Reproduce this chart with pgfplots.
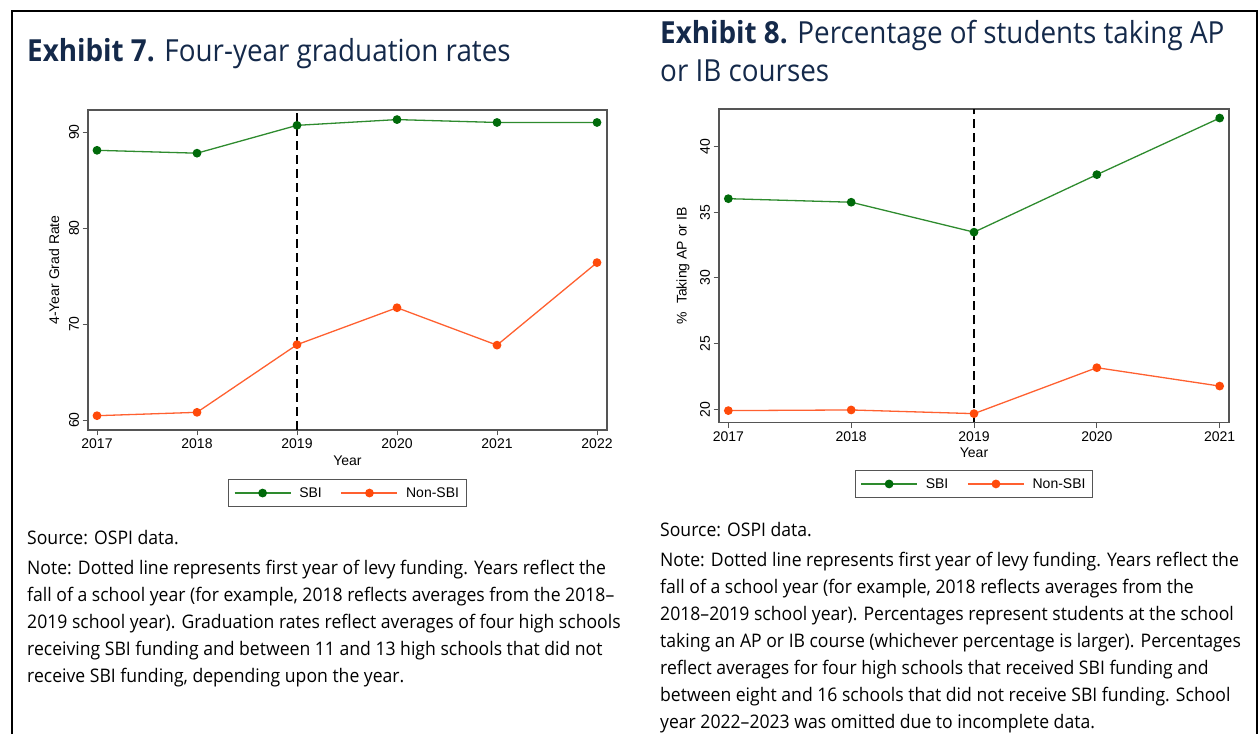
\documentclass[border=0pt]{standalone}
\usepackage{fontspec}
\usepackage{pgfplots}
\pgfplotsset{compat=1.18}
\setmainfont{Open Sans}
\newfontfamily\notefont[FakeStretch=0.941]{Open Sans}
\newfontfamily\titlefont[FakeStretch=0.915]{Open Sans}
\newfontfamily\plotfont{Liberation Sans}
\definecolor{navy}{HTML}{14294A}
\definecolor{sbigreen}{HTML}{006A0A}
\definecolor{sbiline}{HTML}{2E8B2E}
\definecolor{nonsbi}{HTML}{FF4A0A}
\definecolor{nonsbiline}{HTML}{FF6030}
\definecolor{framegray}{HTML}{555555}
\newcommand{\pf}{\plotfont\fontsize{14}{16}\selectfont}
\newcommand{\nf}{\notefont\fontsize{18.7}{27}\selectfont}
\pgfplotsset{
  legend image code/.code={\draw[mark repeat=2,mark phase=2,#1] plot coordinates {(0pt,0pt)(28pt,0pt)(56pt,0pt)};},
  stataaxis/.style={
    scale only axis, anchor=south west,
    axis line style={framegray, line width=1.2pt},
    tick style={framegray, line width=1pt},
    tick align=outside, major tick length=5.5pt,
    tick pos=left,
    /pgf/number format/1000 sep={},
    /pgf/number format/assume math mode=true,
    ticklabel style={font=\pf},
    label style={font=\pf},
    yticklabel style={rotate=90, anchor=south},
    legend style={font=\pf, draw=framegray, line width=1pt, legend columns=2, anchor=center,
      inner xsep=5pt, inner ysep=6pt,
      /tikz/every odd column/.append style={column sep=6pt},
      /tikz/every even column/.append style={column sep=17pt}},
  },
  sbi/.style={color=sbiline, line width=1.3pt, mark=*, mark size=3.7pt, mark options={draw=sbigreen, fill=sbigreen}},
  nsbi/.style={color=nonsbiline, line width=1.3pt, mark=*, mark size=3.7pt, mark options={draw=nonsbi, fill=nonsbi}},
  levy/.style={black, line width=1.8pt, dash pattern=on 9pt off 5pt, forget plot},
}
\begin{document}
\begin{tikzpicture}
\path[use as bounding box] (0pt,0pt) rectangle (1260pt,734pt);
\draw[line width=2.5pt] (12pt,0pt) -- (12pt,723pt) -- (1257pt,723pt) -- (1257pt,0pt);

% Titles
\node[anchor=base west, inner sep=0pt, text=navy, font=\titlefont\fontsize{30.4}{36}\selectfont] at (27pt,672.3pt) {\textbf{Exhibit 7.} Four-year graduation rates};
\node[anchor=base west, inner sep=0pt, text=navy, font=\titlefont\fontsize{30.4}{36}\selectfont] at (660pt,690.5pt) {\textbf{Exhibit 8.} Percentage of students taking AP};
\node[anchor=base west, inner sep=0pt, text=navy, font=\titlefont\fontsize{30.4}{36}\selectfont] at (660pt,652pt) {or IB courses};

% Left chart
\begin{axis}[stataaxis, at={(88pt,304pt)}, width=519pt, height=320pt,
  xmin=2016.91, xmax=2022.1, ymin=58.96, ymax=92.3,
  xtick={2017,2018,2019,2020,2021,2022}, ytick={60,70,80,90},
  xlabel={Year}, ylabel={4-Year Grad Rate},
  ylabel style={at={(axis description cs:-0.0655,0.5)}, anchor=center},
  legend style={at={(0.5,-0.197)}}]
\addplot[levy] coordinates {(2019,58.96) (2019,92.3)};
\addplot[sbi] coordinates {(2017,88.1) (2018,87.8) (2019,90.7) (2020,91.3) (2021,91.0) (2022,91.0)};
\addplot[nsbi] coordinates {(2017,60.45) (2018,60.8) (2019,67.85) (2020,71.7) (2021,67.8) (2022,76.4)};
\legend{SBI, Non-SBI}
\end{axis}

% Right chart
\begin{axis}[stataaxis, at={(719pt,311.5pt)}, width=510pt, height=313.5pt,
  xmin=2016.924, xmax=2021.076, ymin=18.995, ymax=42.87,
  xtick={2017,2018,2019,2020,2021}, ytick={20,25,30,35,40},
  xlabel={Year}, ylabel={\%\ \ Taking AP or IB},
  ylabel style={at={(axis description cs:-0.0706,0.5)}, anchor=center},
  legend style={at={(0.5,-0.196)}}]
\addplot[levy] coordinates {(2019,18.995) (2019,42.87)};
\addplot[sbi] coordinates {(2017,36.04) (2018,35.77) (2019,33.49) (2020,37.87) (2021,42.18)};
\addplot[nsbi] coordinates {(2017,19.9) (2018,19.95) (2019,19.67) (2020,23.17) (2021,21.77)};
\legend{SBI, Non-SBI}
\end{axis}

% Notes left
\node[anchor=base west, inner sep=0pt, font=\nf] at (27pt,190pt) {Source: OSPI data.};
\node[anchor=base west, inner sep=0pt, font=\nf] at (27pt,160pt) {Note: Dotted line represents first year of levy funding. Years reflect the};
\node[anchor=base west, inner sep=0pt, font=\nf] at (27pt,133pt) {fall of a school year (for example, 2018 reflects averages from the 2018–};
\node[anchor=base west, inner sep=0pt, font=\nf] at (27pt,106pt) {2019 school year). Graduation rates reflect averages of four high schools};
\node[anchor=base west, inner sep=0pt, font=\nf] at (27pt,79pt) {receiving SBI funding and between 11 and 13 high schools that did not};
\node[anchor=base west, inner sep=0pt, font=\nf] at (27pt,52pt) {receive SBI funding, depending upon the year.};

% Notes right
\node[anchor=base west, inner sep=0pt, font=\nf] at (660pt,198pt) {Source: OSPI data.};
\node[anchor=base west, inner sep=0pt, font=\nf] at (660pt,168pt) {Note: Dotted line represents first year of levy funding. Years reflect the};
\node[anchor=base west, inner sep=0pt, font=\nf] at (660pt,141pt) {fall of a school year (for example, 2018 reflects averages from the};
\node[anchor=base west, inner sep=0pt, font=\nf] at (660pt,114pt) {2018–2019 school year). Percentages represent students at the school};
\node[anchor=base west, inner sep=0pt, font=\nf] at (660pt,87pt) {taking an AP or IB course (whichever percentage is larger). Percentages};
\node[anchor=base west, inner sep=0pt, font=\nf] at (660pt,60pt) {reflect averages for four high schools that received SBI funding and};
\node[anchor=base west, inner sep=0pt, font=\nf] at (660pt,33pt) {between eight and 16 schools that did not receive SBI funding. School};
\node[anchor=base west, inner sep=0pt, font=\nf] at (660pt,6pt) {year 2022–2023 was omitted due to incomplete data.};
\end{tikzpicture}
\end{document}
